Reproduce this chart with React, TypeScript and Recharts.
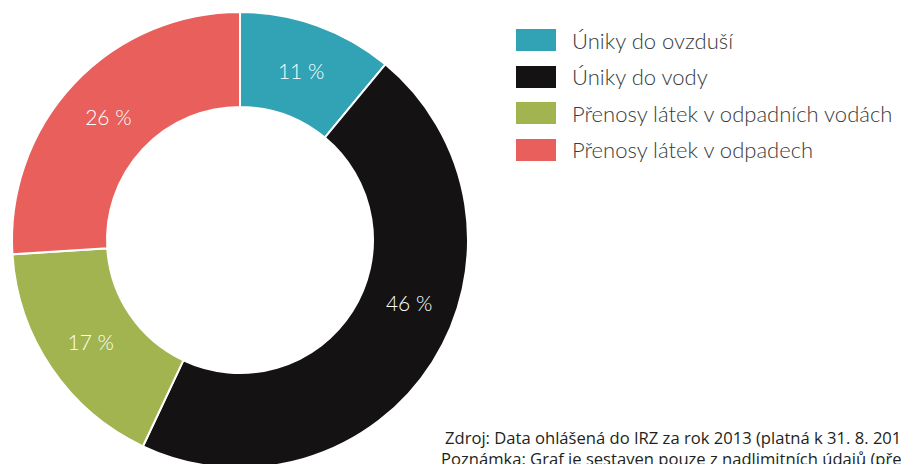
import React from 'react';
import { PieChart, Pie, Cell, Legend } from 'recharts';

const categories = [
    'Úniky do ovzduší',
    'Úniky do vody',
    'Přenosy látek v odpadních vodách',
    'Přenosy látek v odpadech',
];
const shares = [11, 46, 17, 26];
const colors = ['#31a3b4', '#141213', '#a1b44f', '#e85f5c'];
const notes = [
    'Zdroj: Data ohlášená do IRZ za rok 2013 (platná k 31. 8. 2014)',
    'Poznámka: Graf je sestaven pouze z nadlimitních údajů (přenosy',
];

const LIGHT = 'Lato, "Open Sans", sans-serif';
const FONT = '"Open Sans", "Noto Sans", sans-serif';
const RADIAN = Math.PI / 180;

const data = categories.map((name, i) => ({ name, value: shares[i] }));

// the big black slice runs off the bottom, so its label sits higher up
const labelShift: Record<string, number> = { 'Úniky do vody': 12 };

const renderLabel = (props: any) => {
    const { cx, cy, midAngle, innerRadius, outerRadius, value, name } = props;
    const r = (innerRadius + outerRadius) / 2;
    const a = (midAngle + (labelShift[name] || 0)) * RADIAN;
    const x = cx + r * Math.cos(a);
    const y = cy - r * Math.sin(a);
    return (
        <text
            x={x}
            y={y}
            fill="#fff"
            textAnchor="middle"
            dominantBaseline="central"
            fontFamily={LIGHT}
            fontWeight={300}
            fontSize={21}
        >
            {value} %
        </text>
    );
};

const renderLegend = ({ payload }: any) => (
    <div style={{ fontFamily: LIGHT, fontWeight: 300 }}>
        {payload.map((p: any) => (
            <div key={p.value} style={{ display: 'flex', alignItems: 'center', height: 36.5 }}>
                <span style={{ width: 40, height: 22, background: p.color, marginRight: 16, flex: 'none' }} />
                <span style={{ fontSize: 22, color: '#3a3a3a', whiteSpace: 'nowrap' }}>{p.value}</span>
            </div>
        ))}
    </div>
);

export default function App() {
    return (
        <div style={{ position: 'absolute', left: 0, top: 0, width: 901, height: 464, overflow: 'hidden', background: '#fff' }}>
            <PieChart width={901} height={464} margin={{ top: 0, right: 0, bottom: 0, left: 0 }}>
                <Pie
                    data={data}
                    dataKey="value"
                    nameKey="name"
                    cx={240}
                    cy={240}
                    innerRadius={133}
                    outerRadius={228}
                    startAngle={90}
                    endAngle={-270}
                    stroke="#fff"
                    strokeWidth={2}
                    label={renderLabel}
                    labelLine={false}
                    isAnimationActive={false}
                >
                    {data.map((d, i) => (
                        <Cell key={d.name} fill={colors[i]} />
                    ))}
                </Pie>
                <Legend
                    layout="vertical"
                    itemSorter={null}
                    content={renderLegend}
                    wrapperStyle={{ position: 'absolute', left: 516, top: 22, width: 385 }}
                />
            </PieChart>
            <div
                style={{
                    position: 'absolute',
                    top: 427,
                    fontFamily: FONT,
                    fontSize: 16.6,
                    lineHeight: '21px',
                    color: '#231f20',
                    whiteSpace: 'nowrap',
                }}
            >
                <div style={{ marginLeft: 445 }}>{notes[0]}</div>
                <div style={{ marginLeft: 441 }}>{notes[1]}</div>
            </div>
        </div>
    );
}
